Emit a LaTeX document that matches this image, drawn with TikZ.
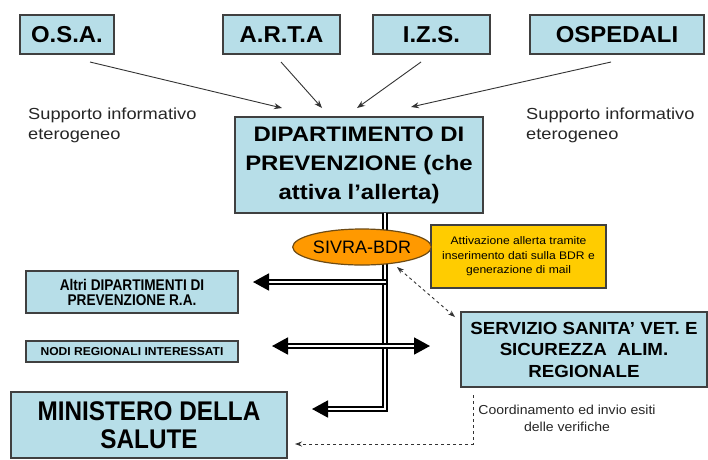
\documentclass[tikz,border=0pt]{standalone}
\usepackage{fontspec}
\setmainfont{Liberation Sans}
\usetikzlibrary{arrows.meta,shapes.geometric}
\definecolor{boxblue}{RGB}{183,222,232}
\definecolor{boxline}{RGB}{64,64,64}
\definecolor{sivrafill}{RGB}{255,153,0}
\definecolor{sivraline}{RGB}{110,75,20}
\definecolor{notey}{RGB}{255,204,0}
\newcommand{\fsz}[3]{\fontsize{#1}{#2}\selectfont\addfontfeature{FakeStretch=#3}}
\tikzset{
  box/.style={draw=boxline, line width=1.2pt, fill=boxblue, inner sep=0pt, align=center},
  topbox/.style={box, minimum height=39pt, font=\bfseries\fsz{23}{28}{1.04}},
  dipbox/.style={box, minimum width=248pt, minimum height=96pt, font=\bfseries\fsz{21}{29}{1.14}},
  altribox/.style={box, minimum width=212pt, minimum height=42pt, font=\bfseries\fsz{15.5}{15}{0.88}},
  nodibox/.style={box, minimum width=212pt, minimum height=21pt, font=\bfseries\fsz{11.5}{13}{1.05}},
  minbox/.style={box, minimum width=276pt, minimum height=66pt, font=\bfseries\fsz{27}{28}{0.9}},
  servbox/.style={box, minimum width=246pt, minimum height=75pt, font=\bfseries\fsz{17.5}{21.5}{1.07}},
  notebox/.style={draw=boxline, line width=1.2pt, fill=notey, inner sep=0pt, align=center,
    minimum width=175pt, minimum height=63pt, font=\fsz{11}{14.5}{1.1}},
  sivranode/.style={ellipse, draw=sivraline, line width=1.2pt, fill=sivrafill, minimum width=128pt,
    minimum height=36pt, inner sep=0pt, font=\fsz{18}{20}{1.0}},
  plain/.style={inner sep=0pt, align=left, text=black!85, font=\fsz{16}{20}{1.14}},
  coordtext/.style={inner sep=0pt, align=center, text=black!85, font=\fsz{13}{17}{1.08}},
  thinarr/.style={draw=black!80, line width=0.9pt, -{Stealth[length=8pt,width=6pt]}},
  dbl/.style={draw=black, line width=1.8pt, double=white, double distance=2.4pt},
  bigtip/.style={-{Triangle[length=16pt,width=17pt]}}
}
\begin{document}
\begin{tikzpicture}[x=1pt,y=-1pt]
\useasboundingbox (0,0) rectangle (708,459);
\fill[white] (0,0) rectangle (708,459);
% top boxes
\node[topbox, minimum width=94pt]  (osa)  at (67,34.5)    {O.S.A.};
\node[topbox, minimum width=117pt] (arta) at (281.5,34.5) {A.R.T.A};
\node[topbox, minimum width=117pt] (izs)  at (431.5,34.5) {I.Z.S.};
\node[topbox, minimum width=174pt] (osp)  at (617,34.5)   {OSPEDALI};
% labels
\node[plain, anchor=west] (supl) at (28,125) {Supporto informativo\\eterogeneo};
\node[plain, anchor=west] (supr) at (526,125) {Supporto informativo\\eterogeneo};
% department
\node[dipbox] (dip) at (359,165) {DIPARTIMENTO DI\\PREVENZIONE (che\\attiva l’allerta)};
% arrow end points
\coordinate (osaS) at (90,62);   \coordinate (osaE) at (282,108);
\coordinate (artaS) at (281,62); \coordinate (artaE) at (322,108);
\coordinate (izsS) at (421,62);  \coordinate (izsE) at (357,108);
\coordinate (ospS) at (611,62);  \coordinate (ospE) at (411,107);
\draw[thinarr] (osaS) -- (osaE);
\draw[thinarr] (artaS) -- (artaE);
\draw[thinarr] (izsS) -- (izsE);
\draw[thinarr] (ospS) -- (ospE);
% lower boxes
\node[altribox] (altri) at (132,292) {Altri DIPARTIMENTI DI\\PREVENZIONE R.A.};
\node[nodibox]  (nodi)  at (132,351.5) {NODI REGIONALI INTERESSATI};
\node[minbox]   (min)   at (149,425) {MINISTERO DELLA\\SALUTE};
\node[servbox]  (serv)  at (584,349.5) {SERVIZIO SANITA’ VET. E\\SICUREZZA~ ALIM.\\REGIONALE};
\node[notebox]  (note)  at (518.5,256.5) {Attivazione allerta tramite\\inserimento dati sulla BDR e\\generazione di mail};
% double-line network
\coordinate (vtop) at (385,213);
\coordinate (vbot) at (385,409);
\coordinate (altriJ) at (386,282);
\coordinate (altriT) at (253,282);
\coordinate (nodiL) at (272,346);
\coordinate (nodiR) at (430,346);
\coordinate (minT) at (312,409);
\draw[dbl, bigtip] (vtop) -- (vbot) -- (minT);
\draw[dbl, bigtip] (altriJ) -- (altriT);
\draw[dbl, {Triangle[length=16pt,width=17pt]}-{Triangle[length=16pt,width=17pt]}] (nodiL) -- (nodiR);
% SIVRA ellipse
\node[sivranode] (sivra) at (362,247) {SIVRA-BDR};
% dashed connectors
\coordinate (dA) at (397,267);
\coordinate (dB) at (455,317);
\draw[draw=black!80, line width=0.9pt, dashed, {Stealth[length=7pt,width=5pt]}-{Stealth[length=7pt,width=5pt]}] (dA) -- (dB);
\coordinate (cS) at (473,395);
\coordinate (cC) at (473,444);
\coordinate (cE) at (295,444);
\draw[draw=black!80, line width=0.9pt, dashed, -{Stealth[length=7pt,width=5pt]}] (cS) -- (cC) -- (cE);
\node[coordtext] (coord) at (567,418.5) {Coordinamento ed invio esiti\\delle verifiche};
\end{tikzpicture}
\end{document}
